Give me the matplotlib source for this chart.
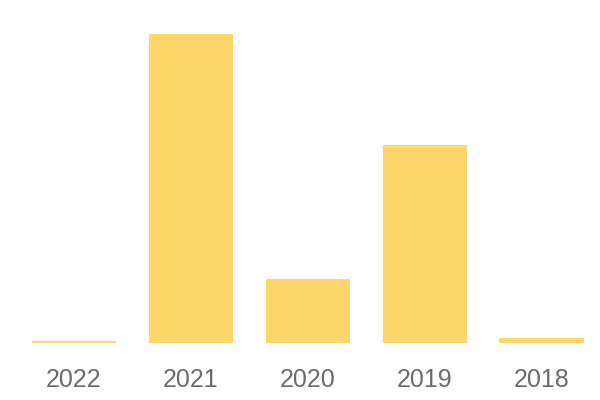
import matplotlib
matplotlib.use("Agg")
import matplotlib.pyplot as plt

years = ["2022", "2021", "2020", "2019", "2018"]
values = [2, 309, 64, 198, 5]

fig = plt.figure(figsize=(6, 4), dpi=100)
ax = fig.add_axes([15.5/600, 1-343/400, 584.5/600, 309/400])

x = range(len(years))
ax.bar(x, values, width=0.72, color="#FED66A")
ax.set_xlim(-0.5, 4.5)
ax.set_ylim(0, max(values))

ax.set_xticks(list(x))
ax.set_xticklabels(years, fontfamily="Liberation Sans", fontsize=18, color="#6b6b6b")
ax.tick_params(axis="x", length=0, pad=18)
ax.set_yticks([])
for s in ax.spines.values():
  s.set_visible(False)

fig.savefig("out.png", dpi=100)
